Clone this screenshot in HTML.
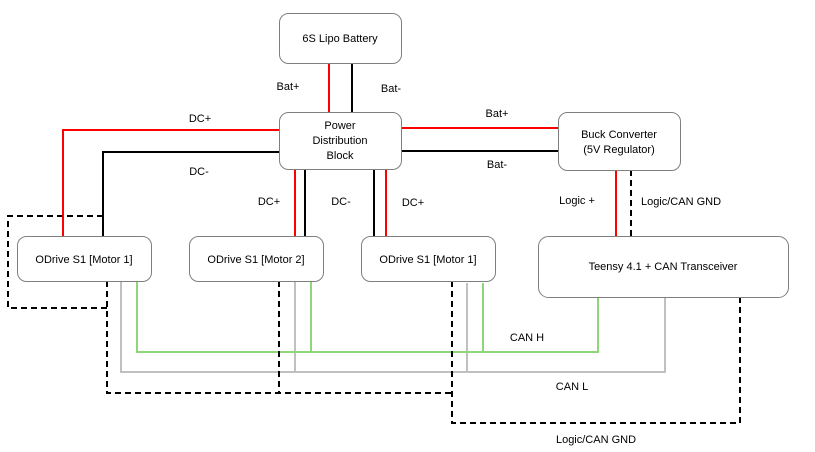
<!DOCTYPE html>
<html><head><meta charset="utf-8"><style>
html,body{margin:0;padding:0;background:#fff;}
svg{display:block;}
text{font-family:"Liberation Sans",sans-serif;font-size:11px;fill:#000;}
</style></head><body>
<svg width="815" height="452" viewBox="0 0 815 452" xmlns="http://www.w3.org/2000/svg">
<g fill="none" stroke-width="2">
<!-- gray CAN L -->
<g stroke="#c0c0c0">
<polyline points="121,281 121,372 665,372 665,297"/>
<line x1="295" y1="281" x2="295" y2="372"/>
<line x1="467" y1="283" x2="467" y2="372"/>
</g>
<!-- green CAN H -->
<g stroke="#8fd67a">
<polyline points="137,281 137,352 598,352 598,297"/>
<line x1="311" y1="281" x2="311" y2="352"/>
<line x1="483" y1="283" x2="483" y2="352"/>
</g>
<!-- dashed GND -->
<g stroke="#000" stroke-dasharray="6,4">
<polyline points="103,216 8,216 8,308 107,308"/>
<polyline points="107,281 107,393 452,393"/>
<line x1="279" y1="281" x2="279" y2="393"/>
<polyline points="452,281 452,423 740,423 740,297"/>
<line x1="631" y1="170" x2="631" y2="236"/>
</g>
<!-- red -->
<g stroke="#ff0000">
<line x1="329" y1="63" x2="329" y2="112"/>
<polyline points="279,130 63,130 63,236"/>
<line x1="295" y1="169" x2="295" y2="236"/>
<line x1="386" y1="169" x2="386" y2="236"/>
<line x1="401" y1="128" x2="558" y2="128"/>
<line x1="616" y1="170" x2="616" y2="236"/>
</g>
<!-- black -->
<g stroke="#000">
<line x1="352" y1="63" x2="352" y2="112"/>
<polyline points="279,152 103,152 103,236"/>
<line x1="305" y1="169" x2="305" y2="236"/>
<line x1="374" y1="169" x2="374" y2="236"/>
<line x1="401" y1="151" x2="558" y2="151"/>
</g>
</g>
<g fill="#fff" stroke="#7f7f7f" stroke-width="1">
<rect x="279.5" y="13.5" width="122" height="50" rx="9"/>
<rect x="279.5" y="112.5" width="122" height="57" rx="9"/>
<rect x="558.5" y="112.5" width="122" height="58" rx="9"/>
<rect x="17.5" y="236.5" width="134" height="45" rx="9"/>
<rect x="189.5" y="236.5" width="134" height="45" rx="9"/>
<rect x="361.5" y="236.5" width="134" height="45" rx="9"/>
<rect x="538.5" y="236.5" width="250" height="61" rx="10"/>
</g>
<g text-anchor="middle">
<text x="340" y="42">6S Lipo Battery</text>
<text x="340" y="129">Power</text>
<text x="340" y="144">Distribution</text>
<text x="340" y="159">Block</text>
<text x="619" y="138">Buck Converter</text>
<text x="619" y="153">(5V Regulator)</text>
<text x="84" y="263">ODrive S1 [Motor 1]</text>
<text x="256" y="263">ODrive S1 [Motor 2]</text>
<text x="428" y="263">ODrive S1 [Motor 1]</text>
<text x="663" y="270">Teensy 4.1 + CAN Transceiver</text>
<text x="200" y="122">DC+</text>
<text x="199" y="175">DC-</text>
<text x="288" y="90">Bat+</text>
<text x="391" y="92">Bat-</text>
<text x="269" y="205">DC+</text>
<text x="341" y="205">DC-</text>
<text x="413" y="206">DC+</text>
<text x="497" y="117">Bat+</text>
<text x="497" y="168">Bat-</text>
<text x="577" y="204">Logic +</text>
<text x="681" y="205">Logic/CAN GND</text>
<text x="527" y="341">CAN H</text>
<text x="572" y="390">CAN L</text>
<text x="596" y="443">Logic/CAN GND</text>
</g>
</svg>
</body></html>
